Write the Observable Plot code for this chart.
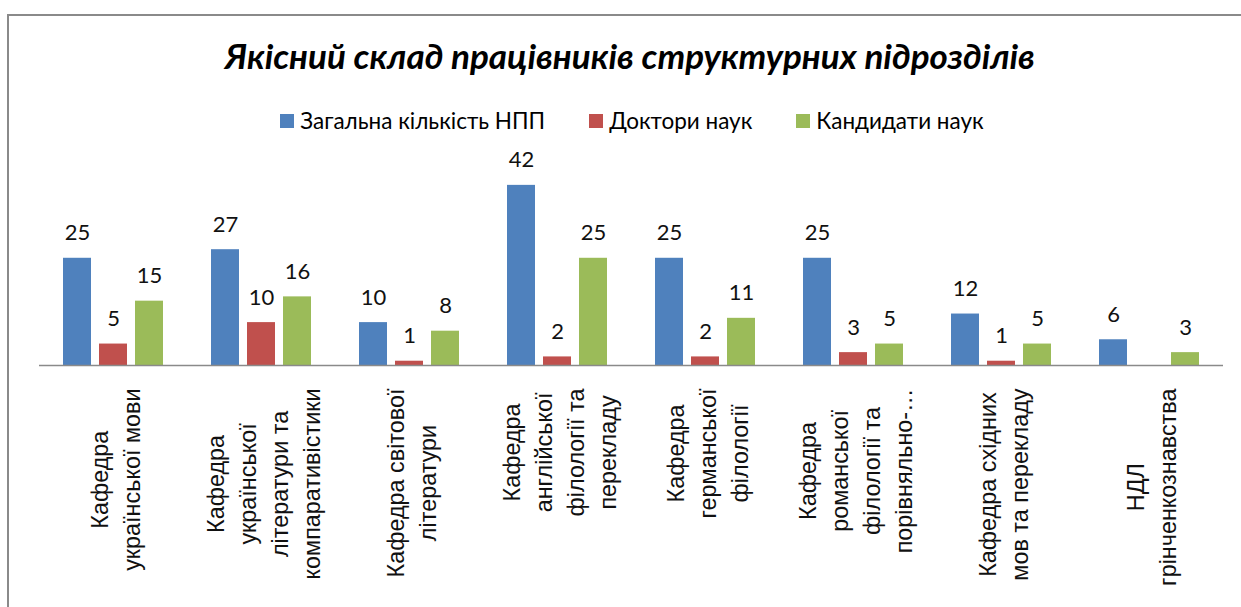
<!DOCTYPE html>
<html>
<head>
<meta charset="utf-8">
<script src="https://cdn.jsdelivr.net/npm/d3@7"></script>
<script src="https://cdn.jsdelivr.net/npm/@observablehq/plot@0.6"></script>
<style>
  html, body { margin: 0; padding: 0; background: #fff; }
  body { width: 1241px; height: 607px; overflow: hidden; position: relative; }
  #frame { position: absolute; left: 7px; top: 14px; width: 1400px; height: 800px;
           border-left: 2px solid #8a8a8a; border-top: 2px solid #8a8a8a; }
  #title { position: absolute; left: 19px; top: 34px; width: 1222px; text-align: center;
           font-family: Lato, "Noto Sans", sans-serif; font-weight: bold; font-style: italic;
           font-size: 35px; color: #000; }
  #legend { position: absolute; left: 21px; top: 107px; width: 1222px; display: flex; justify-content: center;
            font-family: Lato, "Noto Sans", sans-serif; font-size: 22.5px; color: #000; }
  .item { display: flex; align-items: center; margin: 0 22px; }
  .sw { width: 14px; height: 14px; margin-right: 6px; }
  #chart { position: absolute; left: 0; top: 140px; }
</style>
</head>
<body>
<div id="frame"></div>
<div id="title"></div>
<div id="legend"></div>
<div id="chart"></div>
<script>
const titleText = "Якісний склад працівників структурних підрозділів";
const categories = [
  "Кафедра\nукраїнської мови",
  "Кафедра\nукраїнської\nлітератури та\nкомпаративістики",
  "Кафедра світової\nлітератури",
  "Кафедра\nанглійської\nфілології та\nперекладу",
  "Кафедра\nгерманської\nфілології",
  "Кафедра\nроманської\nфілології та\nпорівняльно-…",
  "Кафедра східних\nмов та перекладу",
  "НДЛ\nгрінченкознавства"
];
const seriesNames = ["Загальна кількість НПП", "Доктори наук", "Кандидати наук"];
const totalStaff = [25, 27, 10, 42, 25, 25, 12, 6];
const doctors = [5, 10, 1, 2, 2, 3, 1, null];
const candidates = [15, 16, 8, 25, 11, 5, 5, 3];
const seriesColors = ["#4F81BD", "#C0504D", "#9BBB59"];
const yMax = 45;

const seriesValues = [totalStaff, doctors, candidates];
const rows = [];
categories.forEach((c, i) => {
  seriesNames.forEach((s, j) => {
    const v = seriesValues[j][i];
    if (v != null) rows.push({category: c, series: s, value: v});
  });
});

document.getElementById("title").textContent = titleText;
const legend = document.getElementById("legend");
seriesNames.forEach((s, j) => {
  const it = document.createElement("div"); it.className = "item";
  const sw = document.createElement("div"); sw.className = "sw"; sw.style.background = seriesColors[j];
  const tx = document.createElement("span"); tx.textContent = s;
  it.appendChild(sw); it.appendChild(tx); legend.appendChild(it);
});

const labelFont = "Liberation Sans";
const labelSize = 23.4;
const ctx = document.createElement("canvas").getContext("2d");
ctx.font = `${labelSize}px "${labelFont}"`;
const maxLineWidth = c => d3.max(c.split("\n"), l => ctx.measureText(l).width);

const labelMarks = categories.map(c => Plot.text([c], {
  fx: d => d, text: d => d, frameAnchor: "bottom", rotate: -90,
  textAnchor: "middle", lineAnchor: "middle", lineHeight: 1.37,
  fontSize: labelSize, fontFamily: labelFont, fill: "#111",
  dy: 23 + maxLineWidth(c) / 2
}));

const chart = Plot.plot({
  width: 1241, height: 467,
  marginTop: 32, marginBottom: 242, marginLeft: 38, marginRight: 17,
  fx: {domain: categories, padding: 0, axis: null},
  x: {domain: seriesNames, paddingInner: 0.216, paddingOuter: 0.612, axis: null},
  y: {domain: [0, yMax], axis: null},
  color: {domain: seriesNames, range: seriesColors},
  marks: [
    Plot.barY(rows, {fx: "category", x: "series", y: "value", fill: "series"}),
    Plot.ruleY([0], {stroke: "#8a8a8a", strokeWidth: 1.5}),
    Plot.text(rows, {fx: "category", x: "series", y: "value", text: d => String(d.value),
      dy: -18, lineAnchor: "bottom", fontSize: 22, fontFamily: "Lato", fill: "#111"}),
    ...labelMarks
  ]
});
document.getElementById("chart").appendChild(chart);
</script>
</body>
</html>
